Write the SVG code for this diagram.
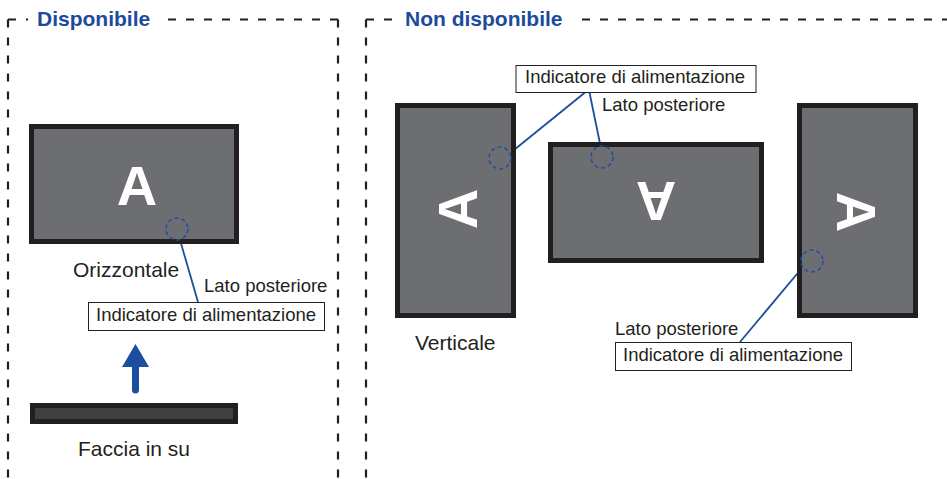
<svg xmlns="http://www.w3.org/2000/svg" width="947" height="479" viewBox="0 0 947 479">
<style>
.frame{fill:none;stroke:#231f20;stroke-width:2.2;stroke-dasharray:8 10}
.title{font-family:"Liberation Sans",Arial,sans-serif;font-weight:bold;font-size:21px;fill:#1b4b9c}
.mon{fill:#6d6e71;stroke:#231f20;stroke-width:5}
.letter{font-family:"Liberation Sans",Arial,sans-serif;font-weight:bold;font-size:56px;fill:#ffffff;text-anchor:middle}
.led{fill:none;stroke:#1f4ea0;stroke-width:1.5;stroke-dasharray:4 3}
.conn{stroke:#1d4e9c;stroke-width:1.8;fill:none}
.lbl{font-family:"Liberation Sans",Arial,sans-serif;font-size:21px;fill:#231f20}
.sm{font-family:"Liberation Sans",Arial,sans-serif;font-size:18.5px;fill:#231f20}
.box{fill:#ffffff;stroke:#231f20;stroke-width:1}
</style>
<rect width="947" height="479" fill="#ffffff"/>
<g id="frames">
<path class="frame" d="M8,19.5 V479"/>
<path class="frame" d="M8,19.5 H28"/>
<path class="frame" d="M338,19.5 H166"/>
<path class="frame" d="M338,19.5 V479"/>
<path class="frame" d="M366,19.5 V479"/>
<path class="frame" d="M366,19.5 H394"/>
<path class="frame" d="M582,19.5 H947"/>
<text class="title" x="37" y="26">Disponibile</text>
<text class="title" x="405" y="26">Non disponibile</text>
</g>
<g id="connectors">
<line class="conn" x1="180" y1="240" x2="198" y2="302"/>
<line class="conn" x1="511.5" y1="152" x2="585" y2="92.5"/>
<line class="conn" x1="600.5" y1="146" x2="589.5" y2="92.5"/>
<line class="conn" x1="802" y1="268" x2="740" y2="342"/>
</g>
<g id="mon-horizontal">
<rect class="mon" x="31.5" y="126.5" width="205" height="115"/>
<text class="letter" x="137" y="205">A</text>
<circle class="led" cx="177" cy="229" r="11"/>
<text class="lbl" x="73" y="277">Orizzontale</text>
</g>
<g id="label-left">
<text class="sm" x="204" y="292">Lato posteriore</text>
<rect class="box" x="88.5" y="302.5" width="236" height="28"/>
<text class="sm" x="96" y="321">Indicatore di alimentazione</text>
</g>
<g id="arrow-up">
<line x1="135.5" y1="390" x2="135.5" y2="362" stroke="#1c4ea0" stroke-width="7" stroke-linecap="round"/>
<polygon points="135.5,344 122,367 149,367" fill="#1c4ea0"/>
</g>
<g id="mon-faceup">
<rect x="32.5" y="405.5" width="203" height="16" fill="#404042" stroke="#231f20" stroke-width="5"/>
<text class="lbl" x="78" y="456">Faccia in su</text>
</g>
<g id="mon-vertical-left">
<rect class="mon" x="397.5" y="105.5" width="116" height="210"/>
<text class="letter" x="457" y="229" transform="rotate(-90 457 209)">A</text>
<circle class="led" cx="500" cy="158" r="11"/>
<text class="lbl" x="415" y="350">Verticale</text>
</g>
<g id="mon-upside-down">
<rect class="mon" x="550.5" y="144.5" width="211" height="116"/>
<text class="letter" x="656" y="222" transform="rotate(180 656 202)">A</text>
<circle class="led" cx="602" cy="157" r="11"/>
</g>
<g id="label-top">
<rect class="box" x="516" y="65.5" width="240" height="27"/>
<text class="sm" x="525" y="83">Indicatore di alimentazione</text>
<text class="sm" x="602" y="111">Lato posteriore</text>
</g>
<g id="mon-vertical-right">
<rect class="mon" x="799.5" y="105.5" width="116" height="210"/>
<text class="letter" x="857" y="232" transform="rotate(90 857 212)">A</text>
<circle class="led" cx="812" cy="261" r="11"/>
</g>
<g id="label-bottom">
<text class="sm" x="615" y="335">Lato posteriore</text>
<rect class="box" x="615.5" y="342.5" width="236" height="28"/>
<text class="sm" x="623" y="361">Indicatore di alimentazione</text>
</g>
</svg>
